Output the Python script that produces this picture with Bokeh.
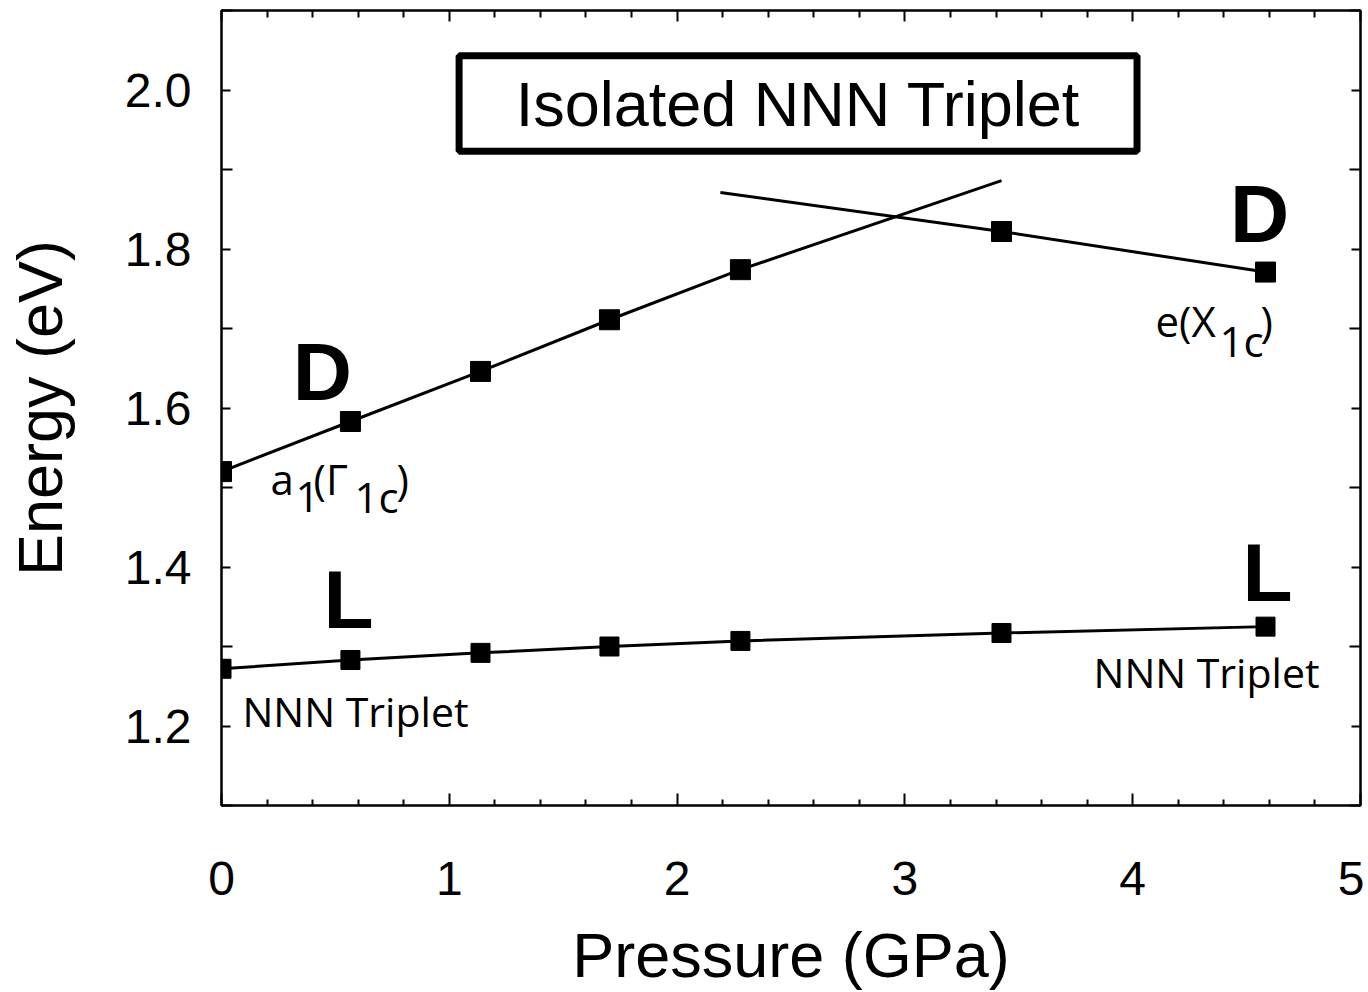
from bokeh.plotting import figure
from bokeh.models import Range1d, LinearAxis, FixedTicker, NumeralTickFormatter, BoxAnnotation, CustomJSTickFormatter
from bokeh.core.properties import value
from bokeh.embed import file_html
from bokeh.resources import INLINE

# ---- data ----
pressure = [0.0, 0.566, 1.137, 1.703, 2.278, 3.424, 4.583]
energy_D = [1.520, 1.583, 1.646, 1.711, 1.774, 1.822, 1.771]
energy_L = [1.272, 1.283, 1.292, 1.300, 1.307, 1.317, 1.325]

# straight guide lines through the D points
a1_line_x = [0.0, 0.566, 1.137, 1.703, 2.278, 3.424]
a1_line_y = [1.520, 1.583, 1.646, 1.711, 1.774, 1.886]
e_line_x = [2.19, 3.424, 4.583]
e_line_y = [1.871, 1.822, 1.771]

x_ticks = [0, 1, 2, 3, 4, 5]
x_minor_ticks = [0.2, 0.4, 0.6, 0.8, 1.2, 1.4, 1.6, 1.8, 2.2, 2.4, 2.6, 2.8,
                 3.2, 3.4, 3.6, 3.8, 4.2, 4.4, 4.6, 4.8]
y_ticks = [1.2, 1.4, 1.6, 1.8, 2.0]
y_minor_ticks = [1.1, 1.3, 1.5, 1.7, 1.9, 2.1]

title_text = "Isolated NNN Triplet"
x_label = "Pressure (GPa)"
y_label = "Energy (eV)"

BLACK = "#000000"
SANS = "Liberation Sans"
MYRIAD = "Open Sans"

p = figure(width=1364, height=992, x_range=Range1d(0, 5), y_range=Range1d(1.1, 2.1),
           output_backend="svg", toolbar_location=None,
           min_border_left=221, min_border_right=4, min_border_top=10, min_border_bottom=184)
p.xgrid.visible = False
p.ygrid.visible = False
p.outline_line_color = BLACK
p.outline_line_width = 2
p.background_fill_color = "white"
p.border_fill_color = "white"


def style_axis(a, tin, tout, min_in):
    a.axis_line_color = BLACK
    a.axis_line_width = 2
    a.major_tick_line_color = BLACK
    a.major_tick_line_width = 2
    a.minor_tick_line_color = BLACK
    a.minor_tick_line_width = 2
    a.major_tick_in = tin
    a.major_tick_out = tout
    a.minor_tick_in = min_in
    a.minor_tick_out = 0


# bottom axis
xa = p.xaxis[0]
xa.ticker = FixedTicker(ticks=x_ticks, minor_ticks=x_minor_ticks)
xa.axis_label = x_label
xa.axis_label_text_font = SANS
xa.axis_label_text_font_size = "63px"
xa.axis_label_text_font_style = "normal"
xa.axis_label_text_color = BLACK
xa.axis_label_standoff = 22
xa.major_label_text_font = SANS
xa.major_label_text_font_size = "48px"
xa.major_label_text_color = BLACK
xa.major_label_standoff = 56
style_axis(xa, 12, 0, 6)

# left axis
ya = p.yaxis[0]
ya.ticker = FixedTicker(ticks=y_ticks, minor_ticks=y_minor_ticks)
ya.formatter = NumeralTickFormatter(format="0.0")
ya.axis_label = y_label
ya.axis_label_text_font = SANS
ya.axis_label_text_font_size = "63px"
ya.axis_label_text_font_style = "normal"
ya.axis_label_text_color = BLACK
ya.axis_label_standoff = 47
ya.major_label_text_font = SANS
ya.major_label_text_font_size = "48px"
ya.major_label_text_color = BLACK
ya.major_label_standoff = 30
style_axis(ya, 9, 0, 11)

# mirrored tick-only axes
blank = CustomJSTickFormatter(code="return ''")
top = LinearAxis(ticker=FixedTicker(ticks=x_ticks, minor_ticks=x_minor_ticks),
                 formatter=blank, major_label_standoff=0, major_label_text_font_size="1px")
right = LinearAxis(ticker=FixedTicker(ticks=y_ticks, minor_ticks=y_minor_ticks),
                   formatter=blank, major_label_standoff=0, major_label_text_font_size="1px")
style_axis(top, 11, 0, 7)
style_axis(right, 9, 0, 11)
p.add_layout(top, "above")
p.add_layout(right, "right")

# lines
p.line(a1_line_x, a1_line_y, line_color=BLACK, line_width=3)
p.line(e_line_x, e_line_y, line_color=BLACK, line_width=3)
p.line(pressure, energy_L, line_color=BLACK, line_width=3)

# markers
p.scatter(pressure, energy_D, marker="square", size=20, fill_color=BLACK, line_color=BLACK)
p.scatter(pressure, energy_L, marker="square", size=19, fill_color=BLACK, line_color=BLACK)

# title box
box = BoxAnnotation(left=1.043, right=4.019, top=2.043, bottom=1.923,
                    fill_alpha=0, line_color=BLACK, line_width=7, line_alpha=1)
p.add_layout(box)
p.text(x=[(1.043 + 4.019) / 2], y=[1.9535], text=[title_text], y_offset=-23,
       text_font=value(SANS), text_font_size="63px", text_color=BLACK,
       text_align="center", text_baseline="alphabetic")


def put(xv, yv, txt, dx, dy, font, size, style="normal", align="left"):
    p.text(x=[xv], y=[yv], text=[txt], x_offset=dx, y_offset=dy,
           text_font=value(font), text_font_size=size, text_font_style=style,
           text_color=BLACK, text_align=align, text_baseline="alphabetic")


# bold D / L letters
put(pressure[1], energy_D[1], "D", -28, -50, SANS, "82px", "bold", "center")
put(pressure[6], energy_D[6], "D", -6, -59, SANS, "82px", "bold", "center")
put(pressure[1], energy_L[1], "L", -2, -61, SANS, "82px", "bold", "center")
put(pressure[6], energy_L[6], "L", 2, -54, SANS, "82px", "bold", "center")

# a1(Γ1c)
put(pressure[0], energy_D[0], "a", 49, 7, MYRIAD, "42px")
put(pressure[0], energy_D[0], "1", 74, 25, MYRIAD, "42px")
put(pressure[0], energy_D[0], "(Γ", 92, 7, MYRIAD, "42px")
put(pressure[0], energy_D[0], "1c", 133, 25, MYRIAD, "42px")
put(pressure[0], energy_D[0], ")", 175, 7, MYRIAD, "42px")

# e(X1c)
put(pressure[6], energy_D[6], "e(X", -110, 48, MYRIAD, "42px")
put(pressure[6], energy_D[6], "1c", -46, 68, MYRIAD, "42px")
put(pressure[6], energy_D[6], ")", -5, 48, MYRIAD, "42px")

# NNN Triplet labels
put(pressure[0], energy_L[0], "NNN Triplet", 21, 42, MYRIAD, "41px")
put(pressure[6], energy_L[6], "NNN Triplet", -172, 45, MYRIAD, "41px")

open("out.html", "w").write(file_html(p, INLINE))
